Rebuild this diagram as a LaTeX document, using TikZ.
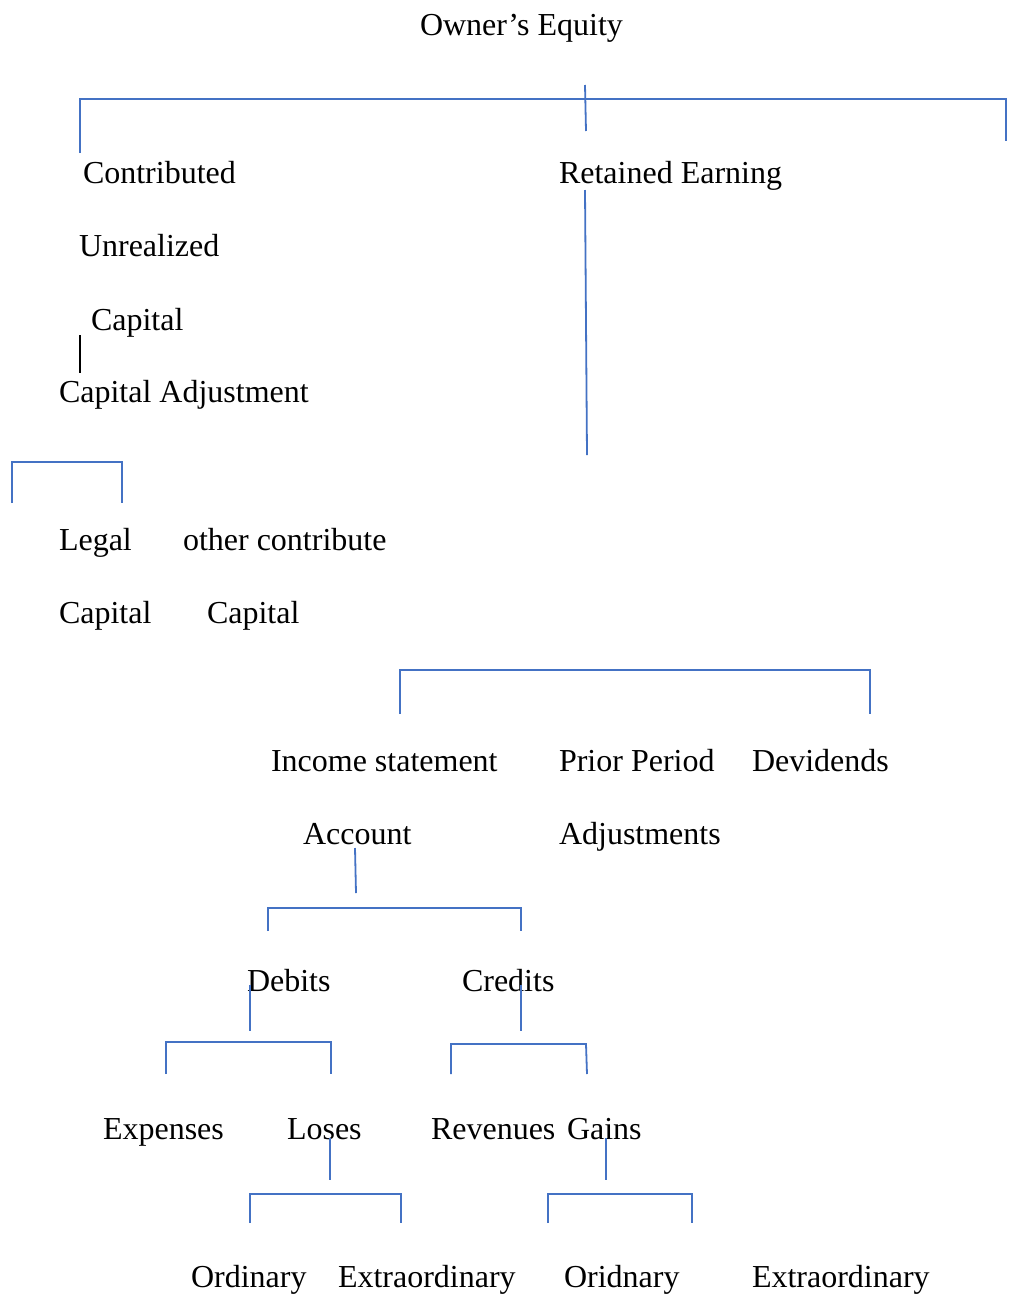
\documentclass[tikz,border=0pt]{standalone}
\usepackage{fontspec}
\setmainfont{Liberation Serif}
\definecolor{wordblue}{RGB}{68,114,196}
\begin{document}
\begin{tikzpicture}[x=1pt,y=-1pt,
  lbl/.style={anchor=base west,inner sep=0pt,outer sep=0pt,font=\fontsize{32}{38}\selectfont},
  bl/.style={draw=wordblue,line width=1.8pt,line join=miter},
  blk/.style={draw=black,line width=1.6pt}]
\useasboundingbox (0,0) rectangle (1013,1296);
% texts
\node[lbl] (oe) at (420,35) {Owner’s Equity};
\node[lbl] (contrib) at (83,183) {Contributed};
\node[lbl] (ret) at (559,183) {Retained Earning};
\node[lbl] (unreal) at (79,256) {Unrealized};
\node[lbl] (cap1) at (91,330) {Capital};
\node[lbl] (capadj) at (59,402) {Capital Adjustment};
\node[lbl] (legal) at (59,550) {Legal};
\node[lbl] (other) at (183,550) {other contribute};
\node[lbl] (cap2) at (59,623) {Capital};
\node[lbl] (cap3) at (207,623) {Capital};
\node[lbl] (inc) at (271,771) {Income statement};
\node[lbl] (prior) at (559,771) {Prior Period};
\node[lbl] (div) at (752,771) {Devidends};
\node[lbl] (acc) at (303,844) {Account};
\node[lbl] (adj) at (559,844) {Adjustments};
\node[lbl] (deb) at (247,991) {Debits};
\node[lbl] (cred) at (462,991) {Credits};
\node[lbl] (exp) at (103,1139) {Expenses};
\node[lbl] (los) at (287,1139) {Loses};
\node[lbl] (rev) at (431,1139) {Revenues};
\node[lbl] (gain) at (567,1139) {Gains};
\node[lbl] (ord1) at (191,1287) {Ordinary};
\node[lbl] (ext1) at (338,1287) {Extraordinary};
\node[lbl] (ord2) at (564,1287) {Oridnary};
\node[lbl] (ext2) at (752,1287) {Extraordinary};
% lines
\draw[bl] (80,153) -- (80,99) -- (1006,99) -- (1006,141);
\draw[bl] (585,85) -- (586,131);
\draw[blk] (80,335) -- (80,373);
\draw[bl] (585,190) -- (587,455);
\draw[bl] (12,503) -- (12,462) -- (122,462) -- (122,503);
\draw[bl] (400,714) -- (400,670) -- (870,670) -- (870,714);
\draw[bl] (355,848) -- (356,893);
\draw[bl] (268,931) -- (268,908) -- (521,908) -- (521,931);
\draw[bl] (250,985) -- (250,1031);
\draw[bl] (521,985) -- (521,1031);
\draw[bl] (166,1074) -- (166,1042) -- (331,1042) -- (331,1074);
\draw[bl] (451,1074) -- (451,1044) -- (586,1044) -- (587,1074);
\draw[bl] (330,1138) -- (330,1180);
\draw[bl] (606,1138) -- (606,1180);
\draw[bl] (250,1223) -- (250,1194) -- (401,1194) -- (401,1223);
\draw[bl] (548,1223) -- (548,1194) -- (692,1194) -- (692,1223);
\end{tikzpicture}
\end{document}
